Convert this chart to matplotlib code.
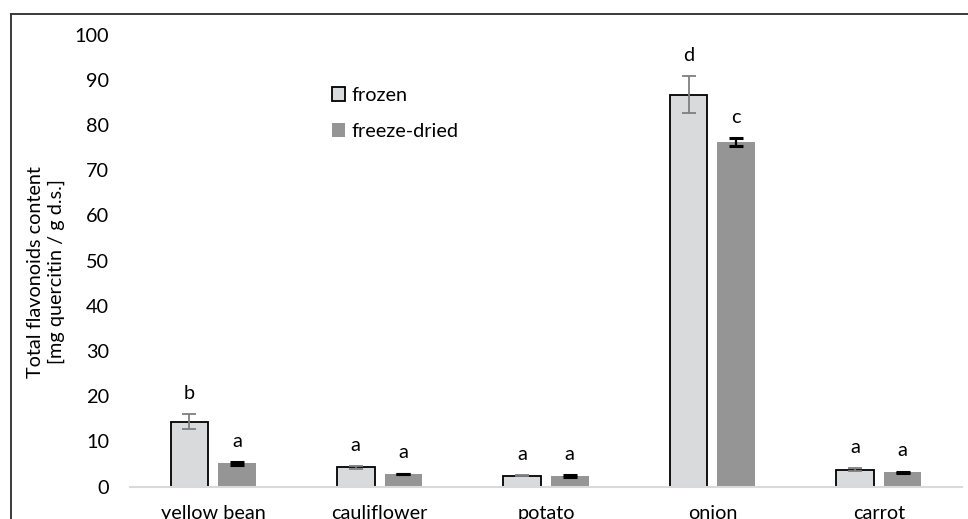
import numpy as np
import matplotlib
matplotlib.use("Agg")
import matplotlib.pyplot as plt
from matplotlib.lines import Line2D

plt.rcParams['font.family'] = ['Lato', 'DejaVu Sans']

# Data
categories = ['yellow bean', 'cauliflower', 'potato', 'onion', 'carrot']
frozen = [14.4, 4.3, 2.4, 86.7, 3.8]
frozen_err = [1.7, 0.3, 0.1, 4.1, 0.25]
frozen_letters = ['b', 'a', 'a', 'd', 'a']
dried = [5.2, 2.8, 2.4, 76.2, 3.2]
dried_err = [0.3, 0.1, 0.15, 0.85, 0.15]
dried_letters = ['a', 'a', 'a', 'c', 'a']

FS = 14.3
W, H = 968, 519
fig = plt.figure(figsize=(W / 100, H / 100), dpi=100)
ax = fig.add_axes([130 / W, 1 - 486.7 / H, 832 / W, (486.7 - 34.6) / H])

x = np.arange(len(categories))
bw = 0.226
off = 0.143

ax.bar(x - off, frozen, bw, color='#D9DADC', edgecolor='black', linewidth=1.3,
       label='frozen', zorder=2)
ax.errorbar(x - off, frozen, yerr=frozen_err, fmt='none', ecolor='#7F7F7F',
            elinewidth=1.3, capsize=5, capthick=1.3, zorder=3)
ax.bar(x + off, dried, bw, color='#959595', edgecolor='none',
       label='freeze-dried', zorder=2)
ax.errorbar(x + off, dried, yerr=dried_err, fmt='none', ecolor='black',
            elinewidth=1.6, capsize=5, capthick=2.2, zorder=3)

for xi, v, e, t in zip(x - off, frozen, frozen_err, frozen_letters):
    ax.annotate(t, (xi, v + e), xytext=(0, 15), textcoords='offset points',
                ha='center', va='center', fontsize=FS)
for xi, v, e, t in zip(x + off, dried, dried_err, dried_letters):
    ax.annotate(t, (xi, v + e), xytext=(0, 15), textcoords='offset points',
                ha='center', va='center', fontsize=FS)

ax.set_xlim(-0.5, len(categories) - 0.5)
ax.set_ylim(0, 100)
ax.set_yticks(np.arange(0, 101, 10))
ax.set_xticks(x)
ax.set_xticklabels(categories)
ax.tick_params(axis='both', length=0, labelsize=FS)
ax.tick_params(axis='y', pad=15)
ax.tick_params(axis='x', pad=13)
for s in ['top', 'right', 'left']:
    ax.spines[s].set_visible(False)
ax.spines['bottom'].set_color('#D9D9D9')
ax.spines['bottom'].set_linewidth(1.5)

ax.legend(loc='upper left', bbox_to_anchor=(0.243, 0.884), frameon=False,
          fontsize=FS, handlelength=0.65, handleheight=0.65, handletextpad=0.3,
          labelspacing=0.95, borderpad=0, borderaxespad=0)

fig.text(46 / W, 1 - 272 / H, 'Total flavonoids content\n[mg quercitin / g d.s.]',
         rotation=90, ha='center', va='center', multialignment='center',
         fontsize=FS, linespacing=1.25)

# outer chart frame (only top and left visible in the crop)
fig.add_artist(Line2D([11 / W, 1], [1 - 13.5 / H, 1 - 13.5 / H],
                      transform=fig.transFigure, color='#3A3A3A', lw=1.4))
fig.add_artist(Line2D([11 / W, 11 / W], [0, 1 - 13.5 / H],
                      transform=fig.transFigure, color='#3A3A3A', lw=1.4))

fig.savefig('out.png', dpi=100)
